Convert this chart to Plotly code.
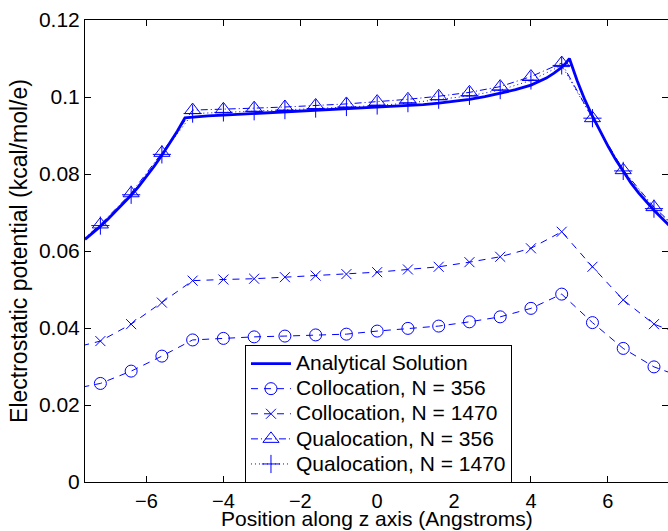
import plotly.graph_objects as go

# Analytical potential along the z axis
z_exact = [-7.6, -7.4, -7.2, -7.0, -6.8, -6.6, -6.4, -6.2, -6.0, -5.8, -5.6, -5.4, -5.2, -5.0,
           -4.8, -4.4, -4.0, -3.6, -3.2, -2.8, -2.4, -2.0, -1.6, -1.2, -0.8, -0.4, 0.0, 0.4,
           0.8, 1.2, 1.6, 2.0, 2.4, 2.8, 3.2, 3.6, 4.0,
           4.2, 4.4, 4.6, 4.8, 4.9, 5.0,
           5.2, 5.4, 5.6, 5.8, 6.0, 6.2, 6.4, 6.6, 6.8, 7.0, 7.2, 7.4, 7.6]
phi_exact = [0.0630, 0.0646, 0.0664, 0.0683, 0.0703, 0.0724, 0.0745, 0.0768, 0.0793, 0.0820, 0.0849, 0.0879, 0.0911, 0.0946,
             0.0948, 0.0951, 0.0953, 0.0955, 0.0957, 0.0959, 0.0961, 0.0963, 0.0965, 0.0967, 0.0968, 0.0970, 0.0972, 0.0974,
             0.0977, 0.0980, 0.0984, 0.0989, 0.0994, 0.1001, 0.1009, 0.1019, 0.1031,
             0.1039, 0.1049, 0.1062, 0.1077, 0.1087, 0.1100,
             0.1043, 0.0993, 0.0950, 0.0910, 0.0873, 0.0838, 0.0806, 0.0777, 0.0751, 0.0727, 0.0706, 0.0686, 0.0666]

# Sample points of the numerical solutions
z_nodes = [-8.0, -7.2, -6.4, -5.6, -4.8, -4.0, -3.2, -2.4, -1.6, -0.8, 0.0,
           0.8, 1.6, 2.4, 3.2, 4.0, 4.8, 5.6, 6.4, 7.2, 8.0]
coll_356 = [0.0240, 0.0256, 0.0288, 0.0327, 0.0369, 0.0373, 0.0377, 0.0379, 0.0382, 0.0384, 0.0392,
            0.0399, 0.0405, 0.0416, 0.0429, 0.0451, 0.0488, 0.0414, 0.0347, 0.0299, 0.0270]
coll_1470 = [0.0346, 0.0366, 0.0410, 0.0466, 0.0523, 0.0526, 0.0528, 0.0532, 0.0536, 0.0540, 0.0545,
             0.0552, 0.0559, 0.0571, 0.0585, 0.0607, 0.0650, 0.0559, 0.0473, 0.0410, 0.0380]
qual_356 = [0.0600, 0.0669, 0.0750, 0.0855, 0.0966, 0.0968, 0.0971, 0.0974, 0.0978, 0.0982, 0.0988,
            0.0994, 0.1002, 0.1012, 0.1027, 0.1053, 0.1088, 0.0945, 0.0810, 0.0714, 0.0640]
qual_1470 = [0.0600, 0.0666, 0.0746, 0.0851, 0.0957, 0.0960, 0.0963, 0.0966, 0.0970, 0.0974, 0.0978,
             0.0984, 0.0993, 0.1003, 0.1018, 0.1043, 0.1082, 0.0945, 0.0808, 0.0710, 0.0640]

series_names = ["Analytical Solution", "Collocation, N = 356", "Collocation, N = 1470",
                "Qualocation, N = 356", "Qualocation, N = 1470"]

x_title = "Position along z axis (Angstroms)"
y_title = "Electrostatic potential (kcal/mol/e)"
x_ticks = [-6, -4, -2, 0, 2, 4, 6]
x_tick_text = ["\u22126", "\u22124", "\u22122", "0", "2", "4", "6"]
y_ticks = [0, 0.02, 0.04, 0.06, 0.08, 0.1, 0.12]
y_tick_text = ["0", "0.02", "0.04", "0.06", "0.08", "0.1", "0.12"]

BLUE = "#0000ff"
FONT = "Liberation Sans, Arial, sans-serif"


def entry(label):
    # legend rows are spaced by the (smaller) legend font; the label itself is drawn larger
    return '<span style="font-size:21px">%s</span>' % label


fig = go.Figure()
fig.add_trace(go.Scatter(x=z_exact, y=phi_exact, mode="lines", name=entry(series_names[0]),
                         line=dict(color=BLUE, width=2.8)))
fig.add_trace(go.Scatter(x=z_nodes, y=coll_356, mode="lines+markers", name=entry(series_names[1]),
                         line=dict(color=BLUE, width=1, dash="7px,6px"),
                         marker=dict(symbol="circle-open", size=12, color=BLUE, line=dict(width=1, color=BLUE))))
fig.add_trace(go.Scatter(x=z_nodes, y=coll_1470, mode="lines+markers", name=entry(series_names[2]),
                         line=dict(color=BLUE, width=1, dash="7px,6px"),
                         marker=dict(symbol="x-thin-open", size=10, color=BLUE, line=dict(width=1, color=BLUE))))
fig.add_trace(go.Scatter(x=z_nodes, y=qual_356, mode="lines+markers", name=entry(series_names[3]),
                         line=dict(color=BLUE, width=1, dash="7px,3px,1px,3px"),
                         marker=dict(symbol="triangle-up-open", size=14, color=BLUE, line=dict(width=1, color=BLUE))))
fig.add_trace(go.Scatter(x=z_nodes, y=qual_1470, mode="lines+markers", name=entry(series_names[4]),
                         line=dict(color=BLUE, width=1, dash="1px,3px"),
                         marker=dict(symbol="cross-thin-open", size=13, color=BLUE, line=dict(width=1, color=BLUE))))

axis_common = dict(showgrid=False, zeroline=False, showline=True, linecolor="black", linewidth=1,
                   mirror="ticks", ticks="inside", ticklen=6, tickcolor="black", tickwidth=1,
                   automargin=False)

fig.update_xaxes(range=[-7.6, 7.565], tickvals=x_ticks, ticktext=x_tick_text, ticklabelstandoff=1,
                 tickfont=dict(family=FONT, size=20, color="black"),
                 **axis_common)
fig.update_yaxes(range=[0, 0.12], tickvals=y_ticks, ticktext=y_tick_text,
                 tickfont=dict(family=FONT, size=21, color="black"),
                 title=dict(text=y_title, standoff=4,
                            font=dict(family=FONT, size=23, color="black")),
                 **axis_common)

# x-axis title sits tight under the tick labels, at the bottom edge of the page
fig.add_annotation(text=x_title, xref="paper", yref="paper", x=0.5, y=-0.051,
                   xanchor="center", yanchor="top", showarrow=False, borderpad=0,
                   font=dict(family=FONT, size=21, color="black"))

fig.update_layout(
    width=668, height=531,
    margin=dict(l=85, r=0, t=20, b=49, autoexpand=False),
    paper_bgcolor="white", plot_bgcolor="white",
    font=dict(family=FONT, size=20, color="black"),
    showlegend=True,
    legend=dict(x=0.2744, y=0.2965, xanchor="left", yanchor="top",
                bgcolor="white", bordercolor="black", borderwidth=1,
                font=dict(family=FONT, size=17, color="black"),
                tracegroupgap=0, itemwidth=40),
)

fig.write_html("out.html")
